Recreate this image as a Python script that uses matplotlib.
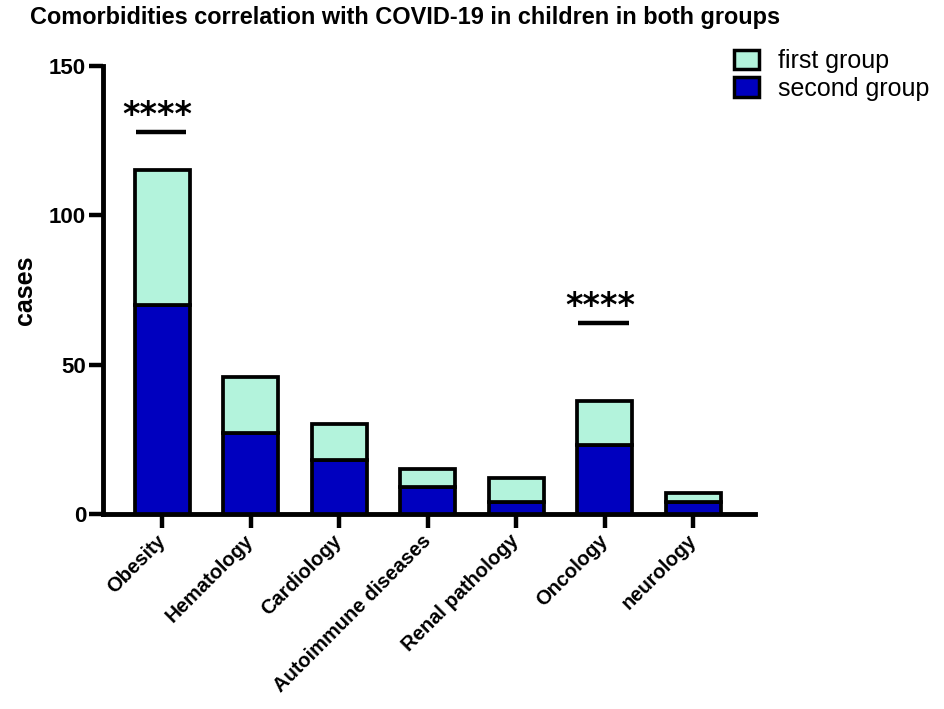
import numpy as np
import matplotlib
matplotlib.use("Agg")
import matplotlib.pyplot as plt
from matplotlib.patches import Patch

# data
categories = ['Obesity', 'Hematology', 'Cardiology', 'Autoimmune diseases',
              'Renal pathology', 'Oncology', 'neurology']
second_group = [70, 27, 18, 9, 4, 23, 4]
first_group = [45, 19, 12, 6, 8, 15, 3]
signif_idx = [0, 5]
signif_y = [128, 64]
signif_text = '****'

c_first = '#b3f3dc'
c_second = '#0000bf'

plt.rcParams['font.family'] = ['Liberation Sans', 'DejaVu Sans']

fig = plt.figure(figsize=(9.44, 7.09), dpi=100)
ax = fig.add_axes([0.109, 0.275, 0.691, 0.632])

x = np.arange(len(categories))
ax.bar(x, second_group, width=0.62, color=c_second, edgecolor='black', linewidth=2.7, zorder=3)
ax.bar(x, first_group, width=0.62, bottom=second_group, color=c_first,
       edgecolor='black', linewidth=2.7, zorder=3)

# significance marks
for i, y in zip(signif_idx, signif_y):
    ax.plot([x[i] - 0.3, x[i] + 0.27], [y, y], color='black', lw=3.2, solid_capstyle='butt')
    ax.text(x[i] - 0.05, y + 5.5, signif_text, ha='center', va='center', fontsize=24,
            fontweight='bold', family='DejaVu Sans')

ax.set_xlim(-0.67, 6.7)
ax.set_ylim(0, 150)
ax.set_yticks([0, 50, 100, 150])
ax.set_xticks(x)
ax.set_xticklabels(categories, rotation=45, ha='right', va='center', rotation_mode='anchor',
                   fontsize=14.5, fontweight='bold')
for lab in ax.get_yticklabels():
    lab.set_fontsize(16)
    lab.set_fontweight('bold')
ax.tick_params(axis='both', width=3.2, length=10, direction='out')
ax.tick_params(axis='y', pad=2)
ax.tick_params(axis='x', pad=7)
ax.spines['top'].set_visible(False)
ax.spines['right'].set_visible(False)
ax.spines['left'].set_linewidth(3.5)
ax.spines['bottom'].set_linewidth(3.5)
ax.set_ylabel('cases', fontsize=18, fontweight='bold', labelpad=9)

fig.text(0.032, 0.975, 'Comorbidities correlation with COVID-19 in children in both groups',
         fontsize=16.9, fontweight='bold', ha='left', va='center')

handles = [Patch(facecolor=c_first, edgecolor='black', linewidth=2.5, label='first group'),
           Patch(facecolor=c_second, edgecolor='black', linewidth=2.5, label='second group')]
fig.legend(handles=handles, loc='upper left', bbox_to_anchor=(0.767, 0.945), frameon=False,
           prop={'size': 18}, handlelength=1.0, handleheight=0.8,
           handletextpad=0.75, labelspacing=0.15, borderaxespad=0)

fig.savefig('out.png', dpi=100, facecolor='white')
